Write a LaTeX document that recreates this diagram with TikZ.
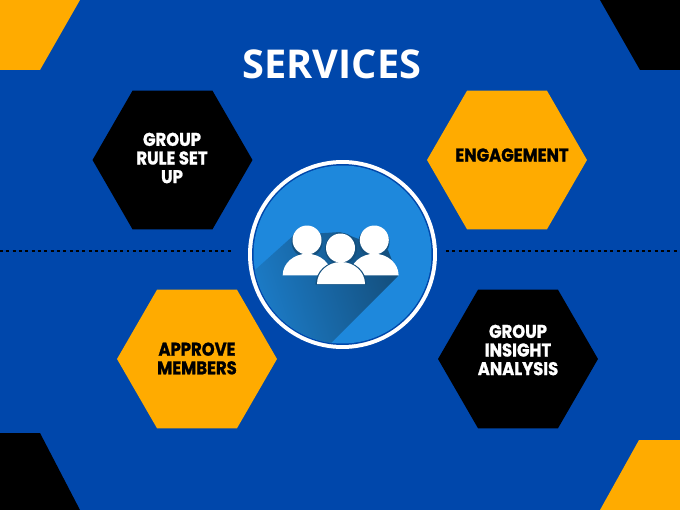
\documentclass[tikz,border=0pt]{standalone}
\usepackage{xcolor}
\usepackage{fontspec}
\setmainfont{Poppins}[BoldFeatures={FakeStretch=0.89,FakeBold=1.2}]
\newfontfamily\titlefont{Open Sans}
\usetikzlibrary{shapes.geometric}

\definecolor{bgblue}{HTML}{0047AB}
\definecolor{discblue}{HTML}{1E88DC}
\definecolor{shadeblue}{HTML}{14507F}
\definecolor{hexorange}{HTML}{FFAB00}

\begin{document}
\begin{tikzpicture}[
  x=0.02cm, y=-0.02cm,
  hexbox/.style={regular polygon, regular polygon sides=6, minimum size=3.2cm, inner sep=0pt},
  hexblack/.style={hexbox, fill=black},
  hexgold/.style={hexbox, fill=hexorange},
  hextext/.style={align=center, font=\fontsize{10.5}{10.6}\selectfont\bfseries, inner sep=0pt},
  person/.style={fill=white},
  personedge/.style={fill=shadeblue},
  dotline/.style={line width=1.7pt, black, dash pattern=on 1.7pt off 1.9pt}
]
\useasboundingbox (0,0) rectangle (680,510);
\fill[bgblue] (0,0) rectangle (680,510);

% corners
\fill[hexorange] (0,0) -- (80,0) -- (40,70) -- (0,70) -- cycle;
\fill[black] (600,0) -- (680,0) -- (680,70) -- (640,70) -- cycle;
\fill[black] (0,433) -- (40,433) -- (80,510) -- (0,510) -- cycle;
\fill[hexorange] (639,440) -- (680,440) -- (680,510) -- (600,510) -- cycle;

% dotted lines
\coordinate (leftstart) at (0,251);
\coordinate (leftend) at (232,251);
\coordinate (rightstart) at (446,251);
\coordinate (rightend) at (680,251);
\draw[dotline] (leftstart) -- (leftend);
\draw[dotline] (rightstart) -- (rightend);

\node[font=\titlefont\fontsize{22.6}{22.6}\selectfont\bfseries, text=white, inner sep=0pt] (title) at (332,64) {SERVICES};

% hexagons
\node[hexblack] (rulehex) at (172.5,160) {};
\node[hexgold] (engagehex) at (507,160) {};
\node[hexgold] (approvehex) at (197,359) {};
\node[hexblack] (insighthex) at (518,359) {};

\node[hextext, text=white] (ruletext) at (172,158) {GROUP\\RULE SET\\UP};
\node[hextext, text=black] (engagetext) at (512,155) {ENGAGEMENT};
\node[hextext, text=black] (approvetext) at (197,358.5) {APPROVE\\MEMBERS};
\node[hextext, text=white] (insighttext) at (518,350) {GROUP\\INSIGHT\\ANALYSIS};

% centre disc
\node[circle, fill=white, minimum size=3.78cm, inner sep=0pt] (hubring) at (342.5,254.5) {};
\node[circle, fill=bgblue, minimum size=3.62cm, inner sep=0pt] (hubgap) at (342.5,254.5) {};
\node[circle, fill=discblue, minimum size=3.56cm, inner sep=0pt] (hubdisc) at (342.5,254.5) {};

% long shadow
\begin{scope}
  \clip (342.5,254.5) circle (89);
  \shade[top color=shadeblue, bottom color=discblue!88!shadeblue, shading angle=-72]
    (294,235) -- (235,288) -- (322,352) -- (398,276) -- (388,250) -- (340,232) -- cycle;
\end{scope}

% people
\fill[personedge] (307,242) circle (15.5);
\fill[personedge] (374,242) circle (15.5);
\fill[person] (282.7,275.3) arc (180:360:24.3 and 21.5) -- cycle;
\fill[person] (350,275.3) arc (180:360:24.3 and 21.5) -- cycle;
\fill[person] (307,240) circle (14.5);
\fill[person] (374.3,240) circle (14.5);
\fill[personedge] (315.5,284.5) arc (180:360:25.5 and 23.5) -- cycle;
\fill[personedge] (341,248.8) circle (16);
\fill[person] (317,284) arc (180:360:24 and 22) -- cycle;
\fill[person] (340.5,248) circle (14.5);
\end{tikzpicture}
\end{document}
